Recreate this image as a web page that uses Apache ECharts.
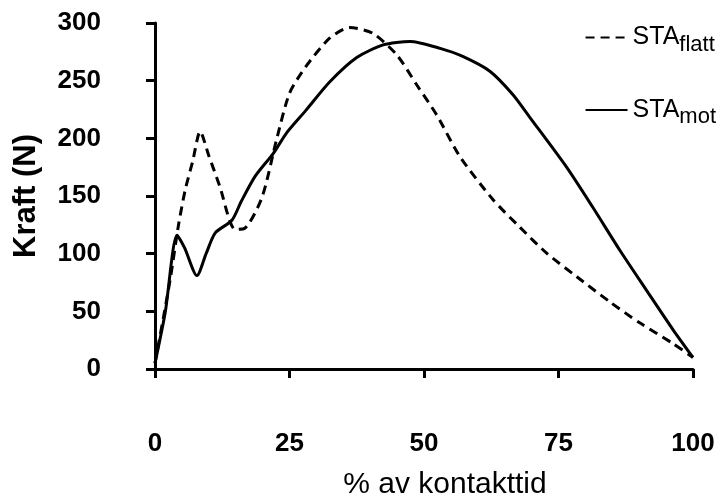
<!DOCTYPE html>
<html>
<head>
<meta charset="utf-8">
<script src="https://cdn.jsdelivr.net/npm/echarts@6/dist/echarts.min.js"></script>
<style>
  html, body { margin: 0; padding: 0; background: #fff; }
  #chart { width: 725px; height: 500px; }
</style>
</head>
<body>
<div id="chart"></div>
<script>
// % av kontakttid / Kraft (N)
var flattX = [0, 2.8, 4.3, 5.6, 7, 8.4, 10, 12, 14.9, 16.7, 19.9, 22.6, 25, 28, 32.5, 36.2, 40.5, 45, 48.7, 52.4, 56.7, 62.8, 67.8, 72.9, 78.4, 84.6, 90.1, 96.3, 100];
var flattY = [5, 77, 123, 155, 180, 206, 185, 159, 121, 122, 149, 199, 239, 262, 287, 296, 291, 272, 246, 220, 184, 147, 123, 100, 80, 58, 40, 22, 10];

var motX = [0, 1.9, 4.1, 5.5, 7.8, 9.5, 11.2, 14.3, 16, 18.6, 22, 24.5, 28, 32.5, 37.5, 42.4, 47.4, 53, 57.2, 62.3, 66.5, 69.7, 76.5, 81.4, 86.4, 91.4, 96.3, 100];
var motY = [5, 49, 116, 105, 81, 100, 118, 129, 145, 167, 187, 205, 224, 249, 270, 281, 284, 278, 271, 258, 238, 218, 175, 140, 103, 68, 34, 10];

var xTicks = [0, 25, 50, 75, 100];
var yTicks = [0, 50, 100, 150, 200, 250, 300];

function pairs(xs, ys) {
  var out = [];
  for (var i = 0; i < xs.length; i++) out.push([xs[i], ys[i]]);
  return out;
}

var chart = echarts.init(document.getElementById('chart'));
var font = 'Liberation Sans, Arial, sans-serif';

var option = {
  animation: false,
  grid: { left: 155, right: 32, top: 23, bottom: 131, containLabel: false, outerBoundsMode: 'none' },
  legend: {
    orient: 'vertical',
    right: 4,
    top: 20,
    itemGap: 42,
    itemWidth: 42,
    itemHeight: 14,
    data: ['flatt', 'mot'],
    itemStyle: { opacity: 0 },
    formatter: function (name) {
      return '{a|STA}{b|' + name + '}';
    },
    textStyle: {
      rich: {
        a: { fontSize: 25, fontFamily: font, color: '#000' },
        b: { fontSize: 22, fontFamily: font, color: '#000', padding: [14, 0, 0, 0] }
      }
    }
  },
  xAxis: {
    type: 'value',
    min: xTicks[0],
    max: xTicks[xTicks.length - 1],
    interval: 25,
    offset: 39,
    name: '% av kontakttid',
    nameLocation: 'middle',
    nameGap: 62,
    nameTextStyle: { fontSize: 30, fontFamily: font, color: '#000', padding: [0, 0, 0, 42] },
    axisLine: { lineStyle: { color: '#000', width: 3 } },
    axisTick: { length: 9, lineStyle: { color: '#000', width: 3 } },
    axisLabel: { fontSize: 26, fontWeight: 'bold', fontFamily: font, color: '#000', margin: 23 },
    splitLine: { show: false }
  },
  yAxis: {
    type: 'value',
    min: yTicks[0],
    max: yTicks[yTicks.length - 1],
    interval: 50,
    offset: 39,
    name: 'Kraft (N)',
    nameLocation: 'middle',
    nameGap: 74,
    nameTextStyle: { fontSize: 31, fontWeight: 'bold', fontFamily: font, color: '#000' },
    axisLine: { show: true, lineStyle: { color: '#000', width: 3 } },
    axisTick: { show: true, length: 9, lineStyle: { color: '#000', width: 3 } },
    axisLabel: { fontSize: 26, fontWeight: 'bold', fontFamily: font, color: '#000', margin: 15 },
    splitLine: { show: false }
  },
  series: [
    {
      name: 'flatt',
      type: 'line',
      symbol: 'none',
      smooth: 0.25,
      data: pairs(flattX, flattY),
      lineStyle: { color: '#000', width: 3, type: [9, 6] },
      itemStyle: { color: '#000' }
    },
    {
      name: 'mot',
      type: 'line',
      symbol: 'none',
      smooth: 0.25,
      data: pairs(motX, motY),
      lineStyle: { color: '#000', width: 3 },
      itemStyle: { color: '#000' }
    }
  ]
};

chart.setOption(option);
</script>
</body>
</html>
